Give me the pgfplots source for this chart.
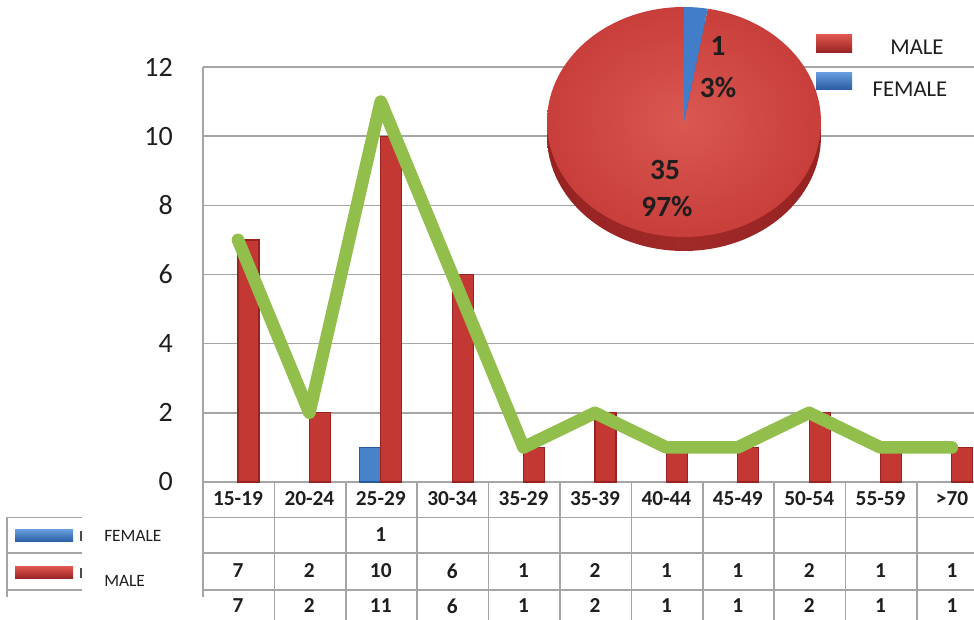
\documentclass[border=0pt]{standalone}
\usepackage{pgfplots}
\pgfplotsset{compat=1.18}
\usepackage{fontspec}
\setmainfont{Carlito}
\definecolor{reddark}{RGB}{150,34,34}
\definecolor{redlight}{RGB}{222,84,78}
\definecolor{redbar}{RGB}{196,56,52}
\definecolor{bluebar}{RGB}{72,130,200}
\definecolor{bluedark}{RGB}{40,90,160}
\definecolor{bluelight}{RGB}{100,155,220}
\definecolor{greenline}{RGB}{146,190,76}
\definecolor{gridgray}{RGB}{165,165,165}
\definecolor{txt}{RGB}{30,30,30}
\definecolor{pieface}{RGB}{200,62,58}
\definecolor{piehi}{RGB}{218,88,82}
\definecolor{pieside}{RGB}{160,42,40}
\definecolor{pieblue}{RGB}{65,125,200}
\begin{document}
\begin{tikzpicture}
\useasboundingbox (0,0) rectangle (730.5pt,465pt);
\begin{axis}[
  at={(152.25pt,103.5pt)}, anchor=south west,
  scale only axis, width=578.25pt, height=311.25pt,
  xmin=-0.49, xmax=10.31, ymin=0, ymax=12,
  ytick={0,2,4,6,8,10,12},
  ymajorgrids, grid style={gridgray, line width=1.1pt},
  axis x line=none, axis y line*=left,
  y axis line style={gridgray, line width=1.1pt, -},
  major tick length=0pt,
  yticklabel style={font=\fontsize{21}{21}\selectfont, text=txt, anchor=east, inner sep=0pt, xshift=-22.5pt},
  /pgf/number format/assume math mode=true,
  clip=false]
% FEMALE
\addplot[ybar, bar width=15.75pt, bar shift=-7.875pt, fill=bluebar, draw=bluedark, line width=0.9pt]
  coordinates {(2,1)};
% MALE
\addplot[ybar, bar width=15.75pt, bar shift=7.875pt, fill=redbar, draw=reddark, line width=0.9pt]
  coordinates {(0,7) (1,2) (2,10) (3,6) (4,1) (5,2) (6,1) (7,1) (8,2) (9,1) (10,1)};
% TOTAL
\addplot[greenline, line width=9.5pt, line join=round, line cap=round, mark=none]
  coordinates {(0,7) (1,2) (2,11) (3,6) (4,1) (5,2) (6,1) (7,1) (8,2) (9,1) (10,1)};
\end{axis}
% data table below the plot (pixel coordinates, y downward)
\begin{scope}[x=0.75pt, y=-0.75pt, yshift=465pt]
  \draw[gridgray, line width=1.1pt] (203,517.5) -- (974,517.5);
  \draw[gridgray, line width=1.1pt] (203,553) -- (974,553);
  \draw[gridgray, line width=1.1pt] (203,590) -- (974,590);
  \draw[gridgray, line width=1.1pt] (203,482) -- (203,597);
  \foreach \k in {1,...,10} {
    \draw[gridgray, line width=1.1pt] ({203+71.4*\k},482) -- ({203+71.4*\k},620);
  }
  % left legend column
  \draw[gridgray, line width=1.1pt] (7,517.5) -- (82,517.5);
  \draw[gridgray, line width=1.1pt] (7,553) -- (82,553);
  \draw[gridgray, line width=1.1pt] (7,590) -- (82,590);
  \draw[gridgray, line width=1.1pt] (7,517.5) -- (7,597);
  \shade[top color=bluelight, bottom color=bluedark] (15,530) rectangle (73,542);
  \shade[top color=redlight, bottom color=reddark] (15,567) rectangle (73,579);
  \draw[txt!80, line width=1.2pt] (81,531) -- (81,541);
  \draw[txt!80, line width=1.2pt] (81,568) -- (81,578);
  \node[anchor=west, inner sep=0pt, text=txt, font=\fontsize{13}{13}\selectfont] at (104,536) {FEMALE};
  \node[anchor=west, inner sep=0pt, text=txt, font=\fontsize{13}{13}\selectfont] at (104,581) {MALE};
  % category names
  \foreach \lab [count=\i from 0] in {15-19,20-24,25-29,30-34,35-29,35-39,40-44,45-49,50-54,55-59,>70} {
    \node[text=txt, font=\fontsize{16}{16}\selectfont\bfseries] at ({238+71.4*\i},499) {\lab};
  }
  % FEMALE row
  \node[text=txt, font=\fontsize{16}{16}\selectfont\bfseries] at ({238+71.4*2},535) {1};
  % MALE row
  \foreach \v [count=\i from 0] in {7,2,10,6,1,2,1,1,2,1,1} {
    \node[text=txt, font=\fontsize{16}{16}\selectfont\bfseries] at ({238+71.4*\i},571) {\v};
  }
  % TOTAL row
  \foreach \v [count=\i from 0] in {7,2,11,6,1,2,1,1,2,1,1} {
    \node[text=txt, font=\fontsize{16}{16}\selectfont\bfseries] at ({238+71.4*\i},606) {\v};
  }
\end{scope}
% pie inset (pixel x, y = 620 - pixel y)
\begin{scope}[x=0.75pt, y=0.75pt]
  \pgfmathsetmacro{\male}{35}
  \pgfmathsetmacro{\female}{1}
  \pgfmathsetmacro{\fang}{90-360*\female/(\male+\female)}
  \pgfmathsetmacro{\mend}{\fang+360}
  \shade[left color=reddark, right color=reddark, middle color=pieside] (684,484) ellipse [x radius=137, y radius=115];
  \shade[inner color=piehi, outer color=pieface] (684,498) -- (684,613) arc[start angle=90, end angle=\mend, x radius=137, y radius=115] -- cycle;
  \fill[pieblue] (684,498) -- (684,613) arc[start angle=90, end angle=\fang, x radius=137, y radius=115] -- cycle;
  \node[text=txt, font=\fontsize{22}{22}\selectfont\bfseries] at (718,574) {1};
  \node[text=txt, font=\fontsize{22}{22}\selectfont\bfseries] at (718,532) {3\%};
  \node[text=txt, font=\fontsize{22}{22}\selectfont\bfseries] at (665,450) {35};
  \node[text=txt, font=\fontsize{22}{22}\selectfont\bfseries] at (667,413) {97\%};
  % pie legend
  \shade[top color=redlight, bottom color=reddark] (816,567) rectangle (852,585);
  \shade[top color=bluelight, bottom color=bluedark] (816,530) rectangle (852,547);
  \node[text=txt, font=\fontsize{17}{17}\selectfont] at (917,573) {MALE};
  \node[text=txt, font=\fontsize{17}{17}\selectfont] at (910,531) {FEMALE};
\end{scope}
\end{tikzpicture}
\end{document}
